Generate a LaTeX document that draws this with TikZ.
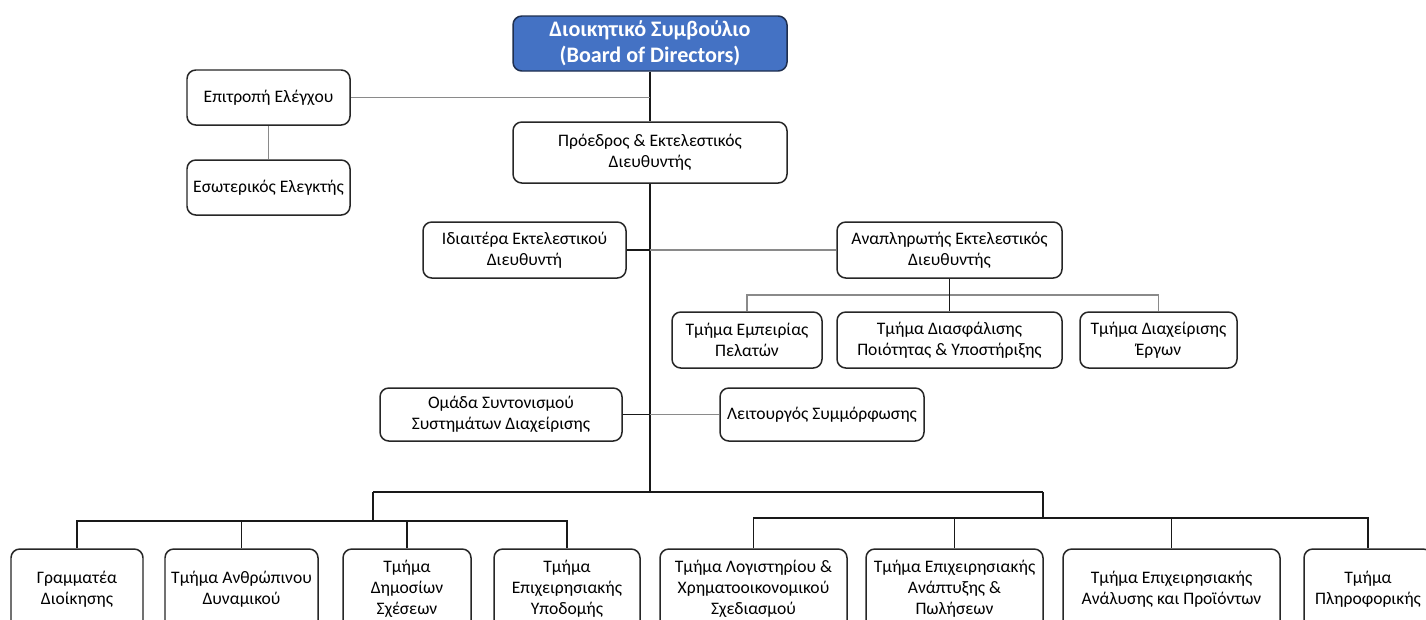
\documentclass[tikz,border=0pt]{standalone}
\usepackage{fontspec}
\setmainfont{Carlito}
\usetikzlibrary{positioning,calc}

\definecolor{boardblue}{HTML}{4472C4}
\definecolor{boardedge}{HTML}{1F2F4F}
\definecolor{linkgray}{HTML}{8A8A8A}

\tikzset{
  unit/.style={draw=black!85, line width=0.85pt, rounded corners=5pt, fill=white,
    align=center, inner sep=2pt, font=\fontsize{10}{12}\selectfont},
  boxsize/.style 2 args={minimum width=#1*0.02cm, minimum height=#2*0.02cm},
  topunit/.style={unit, fill=boardblue, draw=boardedge, text=white,
    font=\fontsize{12.6}{15}\selectfont\bfseries},
  link/.style={black!90, line width=1.1pt},
  sublink/.style={linkgray, line width=0.7pt},
}

\begin{document}
\begin{tikzpicture}[x=0.02cm, y=-0.02cm]
  \useasboundingbox (0,0) rectangle (1426,619);

  % Board and chairman
  \node[topunit, boxsize={274}{55}] (board) at (650,43.5) {Διοικητικό Συμβούλιο\\(Board of Directors)};
  \node[unit, boxsize={274}{61}] (ceo) at (650,152.5) {Πρόεδρος \& Εκτελεστικός\\Διευθυντής};

  % Audit
  \node[unit, boxsize={163}{55}] (audit) at (268.5,97.5) {Επιτροπή Ελέγχου};
  \node[unit, boxsize={163}{55}] (internal) at (268.5,187.5) {Εσωτερικός Ελεγκτής};

  % Staff level
  \node[unit, boxsize={203}{56}] (office) at (524.5,250) {Ιδιαιτέρα Εκτελεστικού\\Διευθυντή};
  \node[unit, boxsize={225}{56}] (deputy) at (949.5,250) {Αναπληρωτής Εκτελεστικός\\Διευθυντής};
  \node[unit, boxsize={150}{56}] (cx) at (747,340) {Τμήμα Εμπειρίας\\Πελατών};
  \node[unit, boxsize={225}{56}] (qa) at (949.5,340) {Τμήμα Διασφάλισης\\Ποιότητας \& Υποστήριξης};
  \node[unit, boxsize={157}{56}] (pm) at (1158.5,340) {Τμήμα Διαχείρισης\\Έργων};
  \node[unit, boxsize={242}{53}] (coord) at (501,414.5) {Ομάδα Συντονισμού\\Συστημάτων Διαχείρισης};
  \node[unit, boxsize={204}{53}] (compliance) at (822,414.5) {Λειτουργός Συμμόρφωσης};

  % Departments
  \node[unit, boxsize={132}{80}] (b1) at (77,589) {Γραμματέα\\Διοίκησης};
  \node[unit, boxsize={153}{80}] (b2) at (241.5,589) {Τμήμα Ανθρώπινου\\Δυναμικού};
  \node[unit, boxsize={128}{80}] (b3) at (407,589) {Τμήμα\\Δημοσίων\\Σχέσεων};
  \node[unit, boxsize={146}{80}] (b4) at (567,589) {Τμήμα\\Επιχειρησιακής\\Υποδομής};
  \node[unit, boxsize={187}{80}] (b5) at (753.5,589) {Τμήμα Λογιστηρίου \&\\Χρηματοοικονομικού\\Σχεδιασμού};
  \node[unit, boxsize={177}{80}] (b6) at (954.5,589) {Τμήμα Επιχειρησιακής\\Ανάπτυξης \&\\Πωλήσεων};
  \node[unit, boxsize={217}{80}] (b7) at (1171.5,589) {Τμήμα Επιχειρησιακής\\Ανάλυσης και Προϊόντων};
  \node[unit, boxsize={128}{80}] (b8) at (1368,589) {Τμήμα\\Πληροφορικής};

  % Fork points
  \coordinate (trunkend) at (650,492);
  \coordinate (lsplit) at (373,492);
  \coordinate (rsplit) at (1043,492);
  \coordinate (lbar) at (373,521);
  \coordinate (rbar) at (1043,518);
  \coordinate (depfork) at (949.5,295);

  % Trunk
  \draw[link] (board) -- (ceo);
  \draw[link] (ceo.south) -- (trunkend);

  % Side links
  \draw[sublink] (audit.east) -- (audit.east -| board.south);
  \draw[sublink] (audit) -- (internal);
  \draw[sublink] (office.east) -- (deputy.west);
  \draw[link] (office.east) -- (office.east -| ceo.south);
  \draw[sublink] (coord.east) -- (compliance.west);
  \draw[link] (coord.east) -- (coord.east -| ceo.south);

  % Deputy units
  \draw[sublink] (cx.north) |- (depfork) -| (pm.north);
  \draw[link] (deputy) -- (qa);

  % Department bars
  \draw[link] (lsplit) -- (rsplit);
  \draw[link] (lsplit) -- (lbar);
  \draw[link] (rsplit) -- (rbar);
  \foreach \n in {b1,b2,b3,b4} {
    \draw[link, line width=1pt] (\n.north) |- (lbar);
  }
  \foreach \n in {b5,b6,b7,b8} {
    \draw[link, line width=1pt] (\n.north) |- (rbar);
  }
\end{tikzpicture}
\end{document}
